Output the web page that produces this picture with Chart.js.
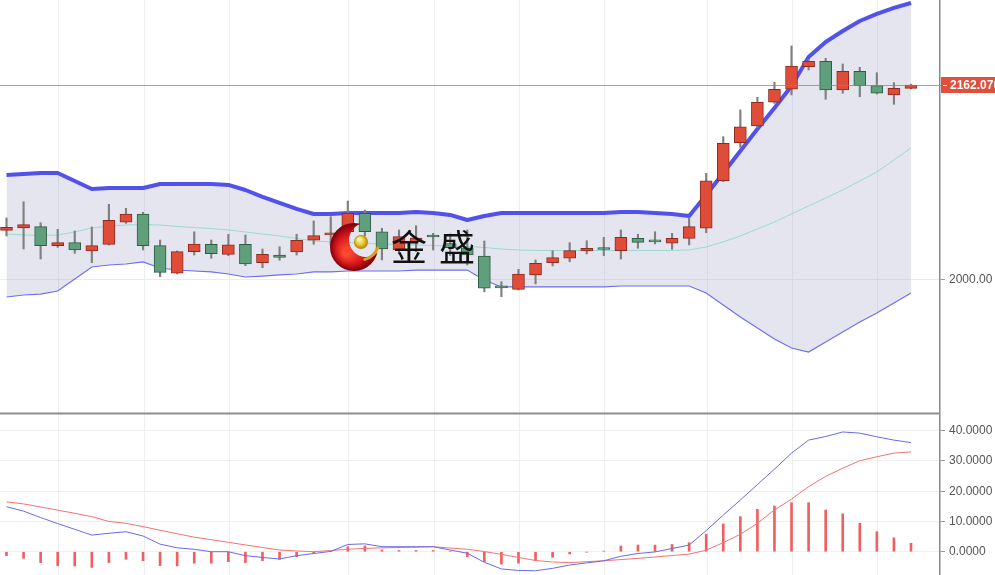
<!DOCTYPE html>
<html><head><meta charset="utf-8">
<script src="https://cdn.jsdelivr.net/npm/chart.js@4.4.1/dist/chart.umd.min.js"></script>
<style>
html,body{margin:0;padding:0;background:#fff;overflow:hidden}
#top{position:absolute;left:0;top:0;width:995px;height:412px}
#bot{position:absolute;left:0;top:412px;width:995px;height:163px}
</style></head><body>
<canvas id="top" width="995" height="412"></canvas>
<canvas id="bot" width="995" height="163"></canvas>
<script>
// K线 + 布林带 + MACD
var opens = [2041.0, 2042.9, 2044.0, 2028.2, 2030.7, 2023.8, 2029.3, 2047.7, 2054.6, 2028.2,
  2005.2, 2023.2, 2029.3, 2021.0, 2029.3, 2014.0, 2020.4, 2022.9, 2032.7, 2037.1,
  2039.8, 2055.2, 2039.8, 2024.6, 2031.3, 2036.0, 2030.0, 2026.3, 2019.6, 1993.4,
  1991.8, 2003.8, 2014.0, 2017.7, 2023.8, 2025.3, 2024.0, 2034.3, 2031.6, 2030.2,
  2034.3, 2042.7, 2082.3, 2114.0, 2127.9, 2147.7, 2158.5, 2177.3, 2181.8, 2157.9,
  2173.5, 2161.5, 2153.8, 2159.3];
var highs = [2051.3, 2064.8, 2047.3, 2041.8, 2040.4, 2043.8, 2062.7, 2059.3, 2056.0, 2032.9,
  2023.8, 2039.8, 2032.9, 2037.7, 2037.1, 2025.4, 2027.3, 2037.7, 2048.8, 2052.3,
  2065.4, 2057.9, 2042.7, 2041.3, 2044.8, 2038.5, 2038.0, 2041.3, 2032.1, 1998.2,
  2008.5, 2016.3, 2024.0, 2030.7, 2032.3, 2035.2, 2041.3, 2037.7, 2039.8, 2038.5,
  2051.3, 2088.5, 2119.0, 2141.3, 2151.8, 2164.3, 2194.6, 2182.9, 2184.3, 2179.6,
  2176.8, 2172.3, 2164.0, 2162.7];
var lows = [2036.3, 2025.4, 2017.1, 2026.8, 2021.8, 2014.0, 2028.8, 2046.8, 2024.6, 2002.3,
  2004.6, 2020.4, 2017.7, 2019.8, 2011.5, 2009.8, 2016.0, 2020.4, 2029.3, 2028.8,
  2036.3, 2036.3, 2016.3, 2021.3, 2023.2, 2024.6, 2020.0, 2012.1, 1989.8, 1985.7,
  1991.3, 1996.3, 2011.3, 2014.8, 2021.3, 2019.8, 2017.1, 2026.0, 2029.6, 2025.2,
  2028.8, 2039.0, 2081.5, 2110.2, 2126.8, 2146.8, 2153.8, 2174.6, 2150.2, 2155.2,
  2152.3, 2154.6, 2146.0, 2158.8];
var closes = [2043.5, 2045.7, 2028.2, 2030.7, 2024.6, 2028.2, 2049.3, 2054.6, 2028.2, 2006.0,
  2023.2, 2029.6, 2021.5, 2028.8, 2012.9, 2021.0, 2018.5, 2032.7, 2036.5, 2038.8,
  2055.2, 2039.8, 2025.4, 2035.7, 2034.6, 2035.4, 2026.5, 2020.4, 1992.7, 1993.0,
  2004.6, 2013.5, 2018.2, 2024.0, 2026.0, 2025.0, 2035.2, 2031.0, 2031.4, 2034.3,
  2044.0, 2082.3, 2113.5, 2127.3, 2147.7, 2158.5, 2177.9, 2181.8, 2157.9, 2173.5,
  2161.5, 2155.2, 2159.3, 2162.07];

var bollUp = [2087.1, 2087.9, 2088.8, 2088.8, 2082.1, 2075.4, 2076.3, 2076.3, 2076.3, 2079.6,
  2079.6, 2079.6, 2079.6, 2078.8, 2074.6, 2068.8, 2063.8, 2058.8, 2054.6, 2054.6,
  2055.4, 2055.4, 2055.4, 2055.4, 2056.3, 2055.4, 2053.8, 2049.6, 2052.9, 2055.4,
  2055.4, 2055.4, 2055.4, 2055.4, 2055.4, 2055.4, 2056.3, 2056.3, 2055.4, 2054.6,
  2052.9, 2070.4, 2088.8, 2107.1, 2125.4, 2142.9, 2161.3, 2185.4, 2197.9, 2207.1,
  2215.4, 2221.3, 2226.3, 2230.4];
var bollMid = [2037.9, 2037.1, 2036.7, 2037.1, 2039.6, 2042.9, 2044.6, 2045.4, 2045.8, 2045.4,
  2044.2, 2043.3, 2042.5, 2041.3, 2039.6, 2037.9, 2036.3, 2034.2, 2032.1, 2031.3,
  2030.8, 2030.4, 2029.6, 2029.2, 2028.8, 2028.3, 2027.9, 2027.5, 2026.7, 2025.4,
  2024.6, 2024.2, 2024.2, 2024.2, 2024.2, 2024.2, 2024.2, 2024.2, 2024.2, 2024.2,
  2024.6, 2027.1, 2031.3, 2036.3, 2042.1, 2047.9, 2054.6, 2061.3, 2067.9, 2074.6,
  2082.1, 2089.6, 2099.6, 2109.6];
var bollLow = [1985.4, 1987.1, 1987.9, 1990.4, 2000.4, 2010.4, 2012.1, 2012.9, 2014.6, 2009.6,
  2007.9, 2007.1, 2006.3, 2004.6, 2002.1, 2002.9, 2003.8, 2004.6, 2006.3, 2006.3,
  2007.1, 2007.1, 2007.1, 2007.1, 2007.9, 2007.9, 2007.9, 2007.9, 1999.6, 1993.8,
  1993.8, 1993.8, 1993.8, 1993.8, 1993.8, 1993.8, 1994.6, 1994.6, 1994.6, 1994.6,
  1994.6, 1988.8, 1978.8, 1968.8, 1959.6, 1950.4, 1942.9, 1939.6, 1947.9, 1956.3,
  1964.6, 1972.1, 1980.4, 1988.8];

var dif = [14.9, 13.4, 11.3, 9.3, 7.4, 5.5, 6.1, 6.6, 5.2, 2.5,
  1.3, 0.8, 0.0, 0.0, -1.3, -1.9, -2.4, -1.3, -0.6, 0.1,
  2.4, 2.6, 1.65, 1.65, 1.65, 1.65, 0.56, -0.5, -3.5, -5.7,
  -6.2, -6.3, -5.5, -4.4, -3.7, -3.0, -1.5, -0.6, -0.07, 1.06,
  2.2, 7.0, 12.1, 17.1, 22.2, 27.3, 32.6, 36.9, 38.1, 39.6,
  39.2, 38.0, 36.9, 36.1];
var dea = [16.5, 15.8, 14.8, 13.75, 12.7, 11.6, 10.0, 9.4, 8.3, 7.1,
  5.95, 4.8, 4.0, 3.1, 2.25, 1.4, 0.56, 0.26, 0.0, 0.4,
  0.8, 1.1, 1.25, 1.4, 1.5, 1.65, 1.2, 0.8, 0.07, -0.9,
  -1.9, -2.9, -3.4, -3.6, -3.3, -3.0, -2.6, -2.2, -1.75, -1.25,
  -0.8, 0.5, 3.0, 5.75, 9.4, 13.8, 17.4, 21.5, 24.9, 27.6,
  30.1, 31.4, 32.6, 33.0];
var macdHist = [-1.3, -2.2, -3.6, -4.6, -4.7, -5.2, -3.6, -2.5, -3.0, -4.6,
  -4.7, -3.8, -3.8, -3.3, -3.6, -3.0, -2.5, -1.65, -0.5, 0.1,
  1.65, 1.9, 0.6, 0.4, 0.4, 0.4, 0.2, -1.65, -3.3, -4.1,
  -3.8, -3.0, -1.85, -0.75, -0.1, 0.2, 1.9, 2.2, 2.2, 2.4,
  3.0, 5.8, 9.2, 11.6, 14.0, 15.1, 16.2, 16.2, 13.8, 12.5,
  9.4, 6.6, 4.6, 2.8];

var gridIdx = [3, 8, 13, 20, 25, 30, 35, 41, 46, 51];   // 周分隔线
var priceTicks = [2000];
var macdTicks = [0, 10, 20, 30, 40];
var lastPrice = 2162.07;

var UP = '#df4d39', UP_EDGE = '#8f2a1e', DOWN = '#5f9f7c', DOWN_EDGE = '#2f5c44';
var AXIS_FONT = { family: 'Liberation Sans', size: 12 };

var idx = opens.map(function (_, i) { return i; });
function pts(arr) { return arr.map(function (v, i) { return { x: i, y: v }; }); }
function isUp(i) { return closes[i] >= opens[i]; }

function xScale() {
  return {
    type: 'linear', min: -0.381, max: 54.70, offset: false,
    afterBuildTicks: function (s) { s.ticks = gridIdx.map(function (v) { return { value: v + 0.06 }; }); },
    afterFit: function (s) { s.height = 0; s.paddingLeft = 0; s.paddingRight = 0; },
    ticks: { display: false },
    grid: { color: '#eceef2', drawTicks: false, offset: false },
    border: { display: false }
  };
}
function yScale(min, max, list, dec, gridColor) {
  return {
    position: 'right', min: min, max: max,
    afterBuildTicks: function (s) { s.ticks = list.map(function (v) { return { value: v }; }); },
    afterFit: function (s) { s.width = 55; s.paddingTop = 0; s.paddingBottom = 0; },
    ticks: { color: '#555', font: AXIS_FONT, padding: 4, callback: function (v) { return Number(v).toFixed(dec); } },
    grid: { color: gridColor, tickColor: '#999', tickLength: 5 },
    border: { display: true, color: '#8a8a8a', width: 1.5 }
  };
}

var pricePlugin = {
  id: 'lastPrice',
  afterDatasetsDraw: function (chart) {
    var c = chart.ctx, a = chart.chartArea;
    var y = Math.round(chart.scales.y.getPixelForValue(lastPrice));
    c.save();
    c.fillStyle = 'rgba(236,90,90,0.75)';
    c.fillRect(a.left, y, a.right - a.left + 6, 1);
    c.restore();
  },
  afterDraw: function (chart) {
    var c = chart.ctx, a = chart.chartArea;
    var y = chart.scales.y.getPixelForValue(lastPrice);
    c.save();
    c.fillStyle = '#df4f3c';
    c.fillRect(a.right + 1, y - 8, 60, 16);
    c.fillStyle = '#fff';
    c.fillRect(a.right + 3, Math.round(y), 4, 1);
    c.font = 'bold 12px "Liberation Sans"';
    c.textBaseline = 'middle';
    c.fillText(lastPrice.toFixed(3), a.right + 10, y + 0.5);
    c.restore();
  }
};

var logoPlugin = {
  id: 'logo',
  afterDatasetsDraw: function (chart) {
    var c = chart.ctx;
    var cx = 354, cy = 247, R = 24;
    c.save();
    c.beginPath(); c.arc(cx, cy, R, 0, Math.PI * 2); c.clip();
    var g = c.createRadialGradient(cx - 8, cy + 6, 3, cx, cy, R);
    g.addColorStop(0, '#ff4a30'); g.addColorStop(0.6, '#d0141a'); g.addColorStop(1, '#7a0008');
    c.beginPath();
    c.rect(cx - R - 2, cy - R - 2, 2 * R + 4, 2 * R + 4);
    c.arc(cx + 12, cy - 7, 17, 0, Math.PI * 2);
    c.fillStyle = g; c.fill('evenodd');
    c.restore();
    // gold tail
    c.save();
    c.strokeStyle = '#d8a21c'; c.lineWidth = 3; c.lineCap = 'round';
    c.beginPath(); c.arc(cx + 6, cy - 6, 19, 0.12 * Math.PI, 0.42 * Math.PI); c.stroke();
    c.restore();
    // gold ball
    c.save();
    var b = c.createRadialGradient(359, 239, 1, 361, 242, 7);
    b.addColorStop(0, '#fff6b0'); b.addColorStop(0.6, '#e6be2a'); b.addColorStop(1, '#a87e08');
    c.fillStyle = b;
    c.beginPath(); c.arc(361, 242, 7, 0, Math.PI * 2); c.fill();
    c.restore();
    // 文字
    c.save();
    c.fillStyle = '#111';
    c.font = '36px "Noto Sans CJK SC"';
    c.textBaseline = 'middle';
    c.fillText('金', 391, 247);
    c.fillText('盛', 439, 247);
    c.restore();
  }
};

var dividerPlugin = {
  id: 'divider',
  afterDraw: function (chart) {
    var c = chart.ctx, a = chart.chartArea;
    c.save();
    c.strokeStyle = '#8e8e8e'; c.lineWidth = 2;
    c.beginPath(); c.moveTo(0, 1.5); c.lineTo(a.right, 1.5); c.stroke();
    c.restore();
  }
};

var common = {
  responsive: false, animation: false, devicePixelRatio: 1, events: [],
  layout: { padding: 0 },
  plugins: { legend: { display: false }, tooltip: { enabled: false }, filler: { drawTime: 'beforeDatasetsDraw' } }
};

new Chart(document.getElementById('top'), {
  type: 'bar',
  data: {
    datasets: [
      { type: 'line', data: pts(bollUp), borderColor: '#5252ea', borderWidth: 4, pointRadius: 0,
        fill: 2, backgroundColor: 'rgba(170,170,205,0.3)', borderJoinStyle: 'round', order: 3 },
      { type: 'line', data: pts(bollMid), borderColor: '#9ad9d3', borderWidth: 1, pointRadius: 0, fill: false, order: 3 },
      { type: 'line', data: pts(bollLow), borderColor: '#6f6fef', borderWidth: 1.2, pointRadius: 0, fill: false, order: 3 },
      { type: 'bar', data: idx.map(function (i) { return { x: i, y: [lows[i], highs[i]] }; }),
        backgroundColor: '#808080', barThickness: 1.5, grouped: false, order: 2 },
      { type: 'bar', data: idx.map(function (i) { return { x: i, y: [opens[i], closes[i]] }; }),
        backgroundColor: function (ctx) { return isUp(ctx.dataIndex) ? UP : DOWN; },
        borderColor: function (ctx) { return isUp(ctx.dataIndex) ? UP_EDGE : DOWN_EDGE; },
        borderWidth: 1, borderSkipped: false, barThickness: 12, minBarLength: 2, grouped: false, order: 1 }
    ]
  },
  options: Object.assign({}, common, {
    scales: { x: xScale(), y: yScale(1889.6, 2232.9, priceTicks, 2, '#ebebeb') }
  }),
  plugins: [pricePlugin, logoPlugin]
});

new Chart(document.getElementById('bot'), {
  type: 'bar',
  data: {
    datasets: [
      { type: 'line', data: pts(dif), borderColor: '#6a6ae6', borderWidth: 1, pointRadius: 0, fill: false, order: 1 },
      { type: 'line', data: pts(dea), borderColor: '#f07474', borderWidth: 1, pointRadius: 0, fill: false, order: 1 },
      { type: 'bar', data: pts(macdHist), backgroundColor: '#f06060', barThickness: 2, grouped: false, order: 2 }
    ]
  },
  options: Object.assign({}, common, {
    scales: { x: xScale(), y: yScale(-7.7, 46.2, macdTicks, 4, '#f0f0f0') }
  }),
  plugins: [dividerPlugin]
});
</script>
</body></html>
